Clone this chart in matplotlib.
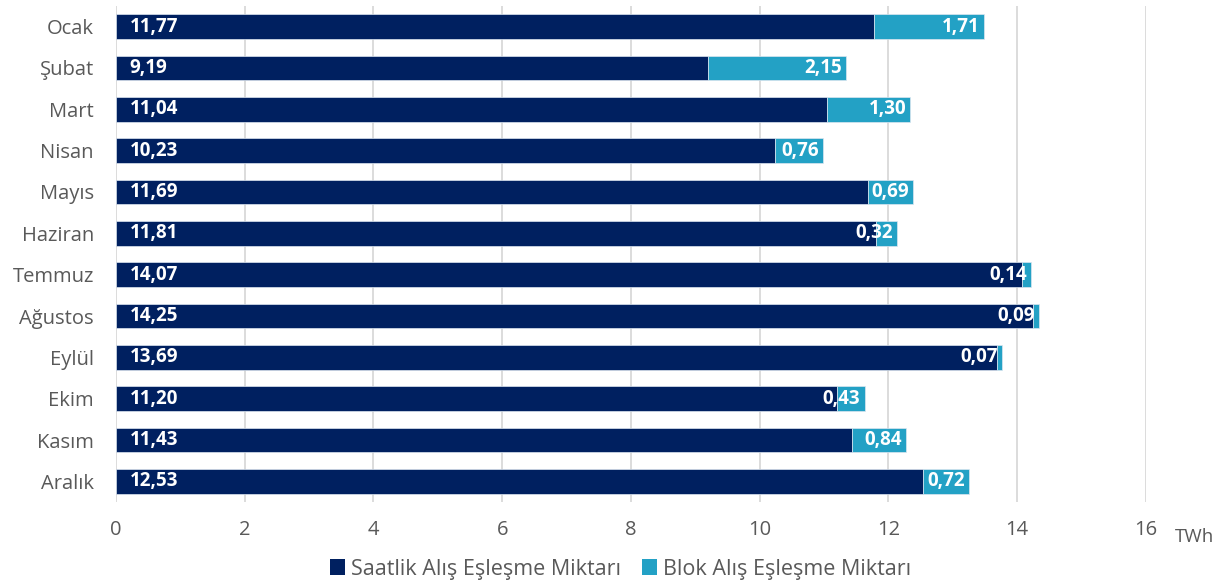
import matplotlib
matplotlib.use("Agg")
import matplotlib.pyplot as plt
from matplotlib.patches import Patch

months = ["Ocak", "Şubat", "Mart", "Nisan", "Mayıs", "Haziran", "Temmuz",
          "Ağustos", "Eylül", "Ekim", "Kasım", "Aralık"]
saatlik = [11.77, 9.19, 11.04, 10.23, 11.69, 11.81, 14.07, 14.25, 13.69, 11.20, 11.43, 12.53]
blok = [1.71, 2.15, 1.30, 0.76, 0.69, 0.32, 0.14, 0.09, 0.07, 0.43, 0.84, 0.72]
xticks = [0, 2, 4, 6, 8, 10, 12, 14, 16]

navy = "#002060"
light = "#23A1C5"
gray = "#595959"

plt.rcParams['font.family'] = ['Open Sans', 'DejaVu Sans']

fig = plt.figure(figsize=(12.26, 5.86), dpi=100)
ax = fig.add_axes([0.0946, 0.1433, 0.8401, 0.8465])

y = list(range(len(months)))
ax.barh(y, saatlik, height=0.6, color=navy, edgecolor="#DDE6F0", linewidth=0.5, zorder=3)
ax.barh(y, blok, left=saatlik, height=0.6, color=light, edgecolor="#DDE6F0", linewidth=0.5, zorder=3)

def fmt(v):
    return f"{v:.2f}".replace(".", ",")

for yi, s, b in zip(y, saatlik, blok):
    ax.annotate(fmt(s), xy=(0, yi), xytext=(10, 0), textcoords="offset points",
                ha="left", va="center", color="white", fontweight="bold", fontsize=13.5, zorder=5)
    ax.annotate(fmt(b), xy=(s + b, yi), xytext=(-3, 0), textcoords="offset points",
                ha="right", va="center", color="white", fontweight="bold", fontsize=13.5, zorder=5)

ax.set_ylim(len(months) - 0.5, -0.5)
ax.set_xlim(0, 16)
ax.set_yticks(y)
ax.set_yticklabels(months)
ax.set_xticks(xticks)
ax.set_xticklabels([str(t) for t in xticks])
ax.tick_params(axis="y", length=0, pad=16, labelsize=14.5, labelcolor=gray)
ax.tick_params(axis="x", length=0, pad=13, labelsize=14.5, labelcolor=gray)
for sp in ax.spines.values():
    sp.set_visible(False)
ax.grid(axis="x", color="#D9D9D9", linewidth=1.3, zorder=0)
ax.set_axisbelow(True)

fig.text(1175 / 1226, 1 - 537 / 586, "TWh", ha="left", va="center", fontsize=13.5, color=gray)

handles = [Patch(facecolor=navy, label="Saatlik Alış Eşleşme Miktarı"),
           Patch(facecolor=light, label="Blok Alış Eşleşme Miktarı")]
fig.legend(handles=handles, loc="center", bbox_to_anchor=(0.506, 1 - 569 / 586), ncol=2,
           frameon=False, fontsize=15.5, labelcolor=gray, handlelength=0.7, handleheight=0.7,
           handletextpad=0.25, columnspacing=1.0)

fig.savefig("out.png", dpi=100)
